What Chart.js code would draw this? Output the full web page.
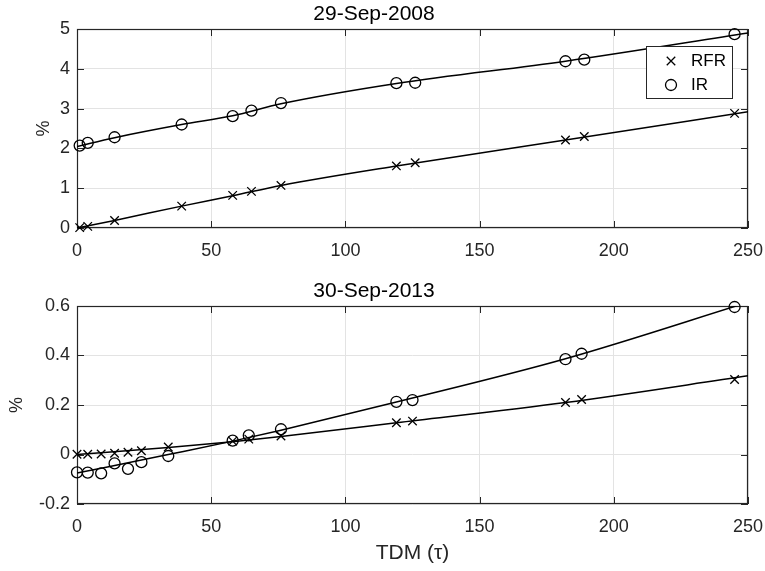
<!DOCTYPE html>
<html>
<head>
<meta charset="utf-8">
<title>RFR and IR term structures</title>
<script src="https://cdn.jsdelivr.net/npm/chart.js@4/dist/chart.umd.min.js"></script>
<style>
  html, body { margin: 0; padding: 0; background: #fff; }
  #wrap { position: relative; width: 765px; height: 571px; overflow: hidden; background: #fff; }
  #c2008 { position: absolute; left: 0; top: 0; width: 765px; height: 270px; }
  #c2013 { position: absolute; left: 0; top: 270px; width: 765px; height: 301px; }
</style>
</head>
<body>
<div id="wrap">
  <canvas id="c2008" width="765" height="270"></canvas>
  <canvas id="c2013" width="765" height="301"></canvas>
</div>
<script>
// Tick values
const TICKS_TDM = [0, 50, 100, 150, 200, 250];
const TICKS_PCT_2008 = [0, 1, 2, 3, 4, 5];
const TICKS_PCT_2013 = [-0.2, 0, 0.2, 0.4, 0.6];

// 29-Sep-2008: observed rates (%) by time to maturity (days)
const tdm2008 = [1, 4, 14, 39, 58, 65, 76, 119, 126, 182, 189, 245];
const rfr2008 = [0.01, 0.04, 0.19, 0.55, 0.82, 0.92, 1.07, 1.56, 1.64, 2.21, 2.30, 2.88];
const ir2008  = [2.07, 2.14, 2.28, 2.60, 2.81, 2.95, 3.14, 3.64, 3.65, 4.19, 4.23, 4.87];
// 29-Sep-2008: fitted curves
const fitTdm2008 = [0, 14, 39, 58, 76, 119, 182, 250];
const rfrFit2008 = [0.00, 0.19, 0.55, 0.81, 1.07, 1.56, 2.21, 2.92];
const irFit2008  = [2.05, 2.27, 2.60, 2.82, 3.12, 3.63, 4.19, 4.90];

// 30-Sep-2013: observed rates (%) by time to maturity (days)
const tdm2013 = [0, 4, 9, 14, 19, 24, 34, 58, 64, 76, 119, 125, 182, 188, 245];
const rfr2013 = [0.001, 0.001, 0.002, 0.005, 0.009, 0.015, 0.030, 0.054, 0.062, 0.075, 0.128, 0.135, 0.210, 0.222, 0.303];
const ir2013  = [-0.072, -0.073, -0.076, -0.036, -0.058, -0.031, -0.006, 0.056, 0.077, 0.102, 0.213, 0.220, 0.385, 0.407, 0.596];
// 30-Sep-2013: fitted curves
const fitTdm2013 = [0, 34, 58, 76, 119, 182, 250];
const rfrFit2013 = [0.000, 0.028, 0.052, 0.073, 0.128, 0.210, 0.318];
const irFit2013  = [-0.075, 0.000, 0.054, 0.098, 0.212, 0.387, 0.615];

const AXIS = '#262626';
const GRID = '#e3e3e3';
const FONT = '"Liberation Sans", Arial, Helvetica, sans-serif';
Chart.defaults.font.family = FONT;

const zip = (xs, ys) => xs.map((x, i) => ({ x, y: ys[i] }));

// Box around the plot area with inward tick marks on all four sides
const boxPlugin = {
  id: 'axesBox',
  beforeDatasetsDraw(chart) {
    const { ctx, chartArea: a, scales } = chart;
    const L = 7;
    ctx.save();
    ctx.strokeStyle = AXIS;
    ctx.lineWidth = 1;
    ctx.beginPath();
    scales.x.ticks.forEach(t => {
      const px = Math.round(scales.x.getPixelForValue(t.value)) + 0.5;
      ctx.moveTo(px, a.bottom); ctx.lineTo(px, a.bottom - L);
      ctx.moveTo(px, a.top); ctx.lineTo(px, a.top + L);
    });
    scales.y.ticks.forEach(t => {
      const py = Math.round(scales.y.getPixelForValue(t.value)) + 0.5;
      ctx.moveTo(a.left, py); ctx.lineTo(a.left + L, py);
      ctx.moveTo(a.right, py); ctx.lineTo(a.right - L, py);
    });
    ctx.stroke();
    ctx.lineWidth = 1.2;
    ctx.strokeRect(Math.round(a.left) + 0.5, Math.round(a.top) + 0.5,
                   Math.round(a.right - a.left) - 1, Math.round(a.bottom - a.top) - 1);
    ctx.restore();
  }
};

// Boxed legend listing the marker series
const legendPlugin = {
  id: 'boxLegend',
  afterDatasetsDraw(chart, args, opts) {
    if (!opts || !opts.show) return;
    const { ctx } = chart;
    const items = chart.data.datasets.filter(d => d.inLegend);
    ctx.save();
    ctx.fillStyle = '#fff';
    ctx.fillRect(opts.x, opts.y, opts.w, opts.h);
    ctx.strokeStyle = AXIS;
    ctx.lineWidth = 1;
    ctx.strokeRect(opts.x + 0.5, opts.y + 0.5, opts.w, opts.h);
    items.forEach((d, i) => {
      const cy = opts.y + opts.rowTop + i * opts.rowGap;
      ctx.fillStyle = 'rgba(0,0,0,0)';
      ctx.strokeStyle = '#000';
      ctx.lineWidth = d.pointBorderWidth;
      Chart.helpers.drawPoint(ctx, {
        pointStyle: d.pointStyle, radius: d.pointRadius,
        borderWidth: d.pointBorderWidth, rotation: 0
      }, opts.x + opts.markX, cy);
      ctx.fillStyle = '#000';
      ctx.font = '17px ' + FONT;
      ctx.textBaseline = 'middle';
      ctx.textAlign = 'left';
      ctx.fillText(d.label, opts.x + opts.textX, cy);
    });
    ctx.restore();
  }
};

function makePanel(canvasId, cfg) {
  const datasets = [
    { type: 'scatter', label: 'RFR', data: zip(cfg.tdm, cfg.rfr), pointStyle: 'crossRot',
      pointRadius: 6, pointBorderWidth: 1.3, pointBorderColor: '#000',
      pointBackgroundColor: 'rgba(0,0,0,0)', showLine: false, clip: false, order: 1, inLegend: true },
    { type: 'scatter', label: 'IR', data: zip(cfg.tdm, cfg.ir), pointStyle: 'circle',
      pointRadius: 5.5, pointBorderWidth: 1.3, pointBorderColor: '#000',
      pointBackgroundColor: 'rgba(0,0,0,0)', showLine: false, clip: false, order: 1, inLegend: true },
    { type: 'line', label: 'RFR fit', data: zip(cfg.fitTdm, cfg.rfrFit), borderColor: '#000',
      borderWidth: 1.5, pointRadius: 0, cubicInterpolationMode: 'monotone', fill: false, order: 2 },
    { type: 'line', label: 'IR fit', data: zip(cfg.fitTdm, cfg.irFit), borderColor: '#000',
      borderWidth: 1.5, pointRadius: 0, cubicInterpolationMode: 'monotone', fill: false, order: 2 }
  ];
  return new Chart(document.getElementById(canvasId), {
    type: 'scatter',
    data: { datasets },
    plugins: [boxPlugin, legendPlugin],
    options: {
      responsive: false,
      animation: false,
      events: [],
      layout: { padding: { left: 0, right: 17, top: cfg.padTop, bottom: 0 } },
      plugins: {
        legend: { display: false },
        tooltip: { enabled: false },
        title: {
          display: true, text: cfg.title, color: '#000',
          font: { size: 21, weight: 'normal', family: FONT, lineHeight: 1.2 },
          padding: { top: 1.4, bottom: 2.4 }
        },
        boxLegend: cfg.legend
      },
      scales: {
        x: {
          type: 'linear', min: 0, max: 250,
          afterBuildTicks: s => { s.ticks = TICKS_TDM.map(v => ({ value: v })); },
          afterFit: s => { s.height = cfg.xHeight; },
          // the tick-length gap (drawn transparent) spaces the labels below the axis
          grid: { color: GRID, drawTicks: true, tickLength: 12, tickColor: 'rgba(0,0,0,0)' },
          border: { display: false },
          ticks: { padding: 0, color: AXIS, font: { size: 18 }, maxRotation: 0, autoSkip: false },
          title: cfg.xTitle
            ? { display: true, text: cfg.xTitle, color: AXIS, font: { size: 21, lineHeight: 1.2 }, padding: { top: 0, bottom: 5.2 } }
            : { display: false }
        },
        y: {
          type: 'linear', min: cfg.yTicks[0], max: cfg.yTicks[cfg.yTicks.length - 1],
          afterBuildTicks: s => { s.ticks = cfg.yTicks.map(v => ({ value: v })); },
          afterFit: s => { s.width = 77; },
          grid: { color: GRID, drawTicks: true, tickLength: 7, tickColor: 'rgba(0,0,0,0)' },
          border: { display: false },
          ticks: { padding: 0, color: AXIS, font: { size: 18 }, autoSkip: false, callback: v => String(v) },
          title: { display: true, text: '%', color: AXIS, font: { size: 18, lineHeight: 1.2 }, padding: { top: cfg.yTitlePad, bottom: 0 } }
        }
      }
    }
  });
}

makePanel('c2008', {
  title: '29-Sep-2008', padTop: 0, xHeight: 42, xTitle: null,
  yTicks: TICKS_PCT_2008, yTitlePad: 33,
  tdm: tdm2008, rfr: rfr2008, ir: ir2008,
  fitTdm: fitTdm2008, rfrFit: rfrFit2008, irFit: irFit2008,
  legend: { show: true, x: 646, y: 46, w: 86, h: 52, markX: 25, textX: 45, rowTop: 15, rowGap: 24 }
});

makePanel('c2013', {
  title: '30-Sep-2013', padTop: 7, xHeight: 67, xTitle: 'TDM (τ)',
  yTicks: TICKS_PCT_2013, yTitlePad: 6,
  tdm: tdm2013, rfr: rfr2013, ir: ir2013,
  fitTdm: fitTdm2013, rfrFit: rfrFit2013, irFit: irFit2013,
  legend: { show: false }
});
</script>
</body>
</html>
